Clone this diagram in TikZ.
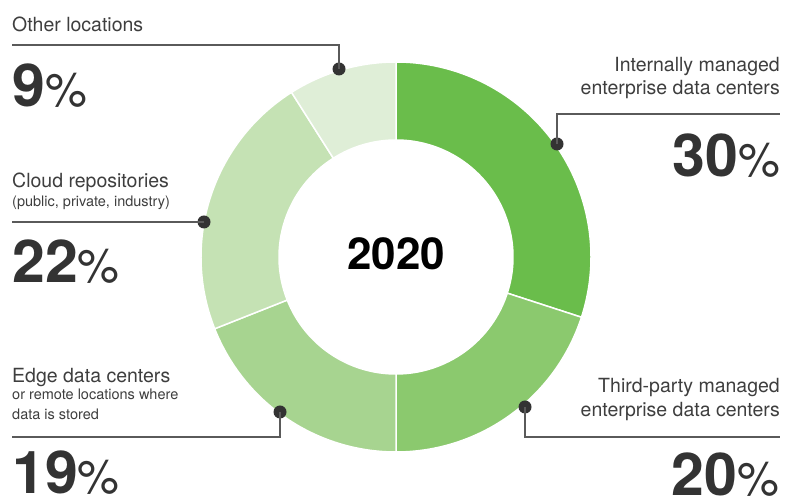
\documentclass[tikz,border=0pt]{standalone}
\usepackage{fontspec}
\setmainfont{TeX Gyre Heros}
\usepackage{xcolor}
\usetikzlibrary{
    calc,
    positioning
}
\definecolor{gA}{HTML}{6ABD4B}
\definecolor{gB}{HTML}{8BC96E}
\definecolor{gC}{HTML}{A7D490}
\definecolor{gD}{HTML}{C5E2B4}
\definecolor{gE}{HTML}{DFEED7}
\definecolor{dotgray}{HTML}{333333}
\definecolor{linegray}{HTML}{5A5A5A}
\definecolor{txtgray}{HTML}{3E3E3E}
\definecolor{numgray}{HTML}{333333}
\tikzset{
    dot/.style={circle, fill=dotgray, inner sep=0pt, minimum size=13pt},
    leader/.style={draw=linegray, line width=1.2pt},
    lbl/.style={text=txtgray, font=\fontsize{19.5}{23}\selectfont, inner sep=0pt},
    sublbl/.style={text=txtgray, font=\fontsize{14.5}{17}\selectfont, inner sep=0pt},
    pct/.style={text=numgray, inner sep=0pt}
}
\newcommand{\pctval}[1]{{\bfseries\fontsize{59}{59}\selectfont #1}{\fontsize{47}{47}\selectfont\%}}

\begin{document}
\begin{tikzpicture}[x=1pt, y=1pt]
                \useasboundingbox (0,0) rectangle (789,502);
                \coordinate (ctr) at (396,245);
                % ring
                \foreach \a/\b/\c in {90/-18/gA, -18/-90/gB, -90/-158.4/gC, -158.4/-237.6/gD, -237.6/-270/gE}{
                    \filldraw[fill=\c, draw=white, line width=1.5pt] ($(ctr)+(\a:195pt)$) arc[start angle=\a, end angle=\b, radius=195pt]
                        -- ($(ctr)+(\b:117pt)$) arc[start angle=\b, end angle=\a, radius=117pt] -- cycle;
                }
                \node[anchor=base, inner sep=0pt, font=\bfseries\fontsize{44}{44}\selectfont] (year) at (396,232) {2020};

                % other locations
                \node[lbl, anchor=base west] (lblOther) at (12,470) {Other locations};
                \coordinate (eOther) at (12,457);
                \node[dot] (dOther) at (339,433) {};
                \draw[leader] (dOther.center) |- (eOther);
                \node[pct, anchor=base west] (pOther) at (12,395) {\pctval{9}};

                % internally managed
                \node[lbl, anchor=base east] (lblInt) at (780,430) {Internally managed};
                \node[lbl, anchor=base east] (lblIntB) at (780,407) {enterprise data centers};
                \coordinate (eInt) at (780,388);
                \node[dot] (dInt) at (557,358) {};
                \draw[leader] (dInt.center) |- (eInt);
                \node[pct, anchor=base east] (pInt) at (780,325) {\pctval{30}};

                % cloud
                \node[lbl, anchor=base west] (lblCloud) at (12,314) {Cloud repositories};
                \node[sublbl, anchor=base west] (lblCloudB) at (12,295) {(public, private, industry)};
                \coordinate (eCloud) at (12,280);
                \node[dot] (dCloud) at (204,280) {};
                \draw[leader] (dCloud.center) -- (eCloud);
                \node[pct, anchor=base west] (pCloud) at (12,219) {\pctval{22}};

                % edge
                \node[lbl, anchor=base west] (lblEdge) at (12,119) {Edge data centers};
                \node[sublbl, anchor=base west] (lblEdgeB) at (12,102) {or remote locations where};
                \node[sublbl, anchor=base west] (lblEdgeC) at (12,82) {data is stored};
                \coordinate (eEdge) at (12,65);
                \node[dot] (dEdge) at (280,90) {};
                \draw[leader] (dEdge.center) |- (eEdge);
                \node[pct, anchor=base west] (pEdge) at (12,8) {\pctval{19}};

                % third-party
                \node[lbl, anchor=base east] (lblThird) at (780,109) {Third-party managed};
                \node[lbl, anchor=base east] (lblThirdB) at (780,85) {enterprise data centers};
                \coordinate (eThird) at (780,65);
                \node[dot] (dThird) at (525,95) {};
                \draw[leader] (dThird.center) |- (eThird);
                \node[pct, anchor=base east] (pThird) at (779,6) {\pctval{20}};
            \end{tikzpicture}
\end{document}
